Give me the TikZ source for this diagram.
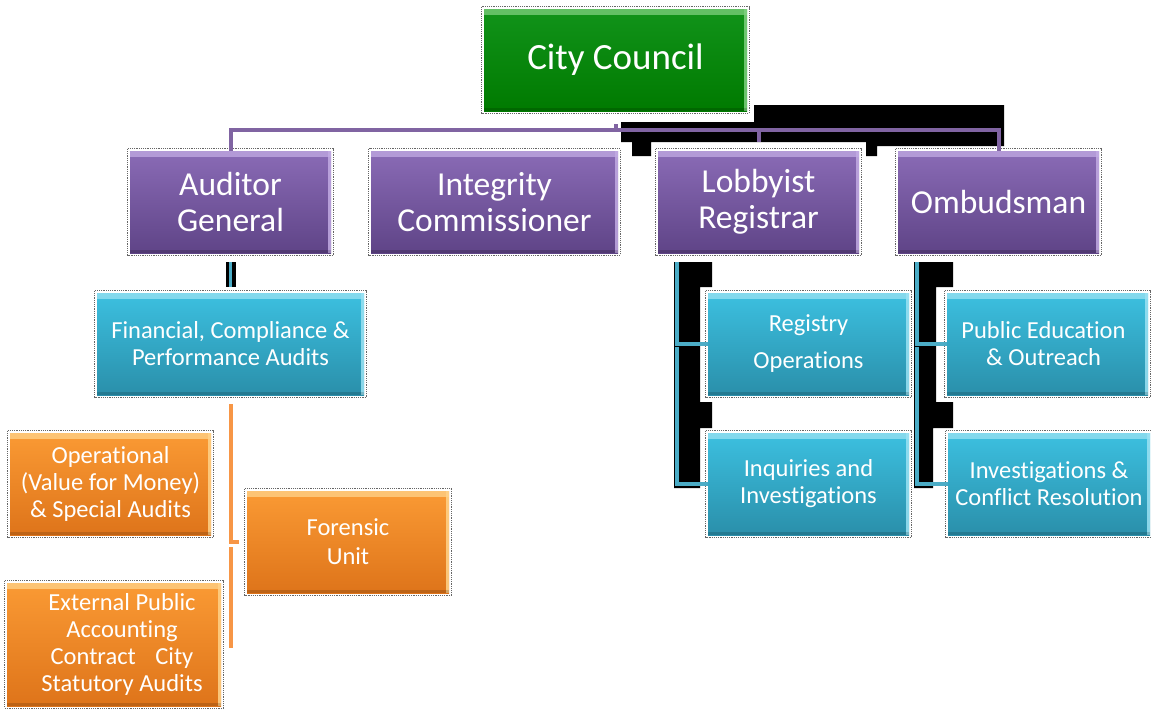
\documentclass[tikz,border=0pt]{standalone}
\usepackage{fontspec}
\setmainfont{Carlito}[Ligatures=NoCommon]
\definecolor{gTop}{HTML}{11931A}
\definecolor{gBot}{HTML}{007A00}
\definecolor{gHi}{HTML}{7FD07F}
\definecolor{pTop}{HTML}{8A6BB6}
\definecolor{pBot}{HTML}{5F4487}
\definecolor{pHi}{HTML}{C2ABE3}
\definecolor{tTop}{HTML}{3CC0E0}
\definecolor{tBot}{HTML}{2A8FAA}
\definecolor{tHi}{HTML}{9BE2F3}
\definecolor{oTop}{HTML}{FA9A34}
\definecolor{oBot}{HTML}{DE741A}
\definecolor{oHi}{HTML}{FFD38A}
\definecolor{pLine}{HTML}{8064A2}
\definecolor{tLine}{HTML}{4BACC6}
\definecolor{oLine}{HTML}{F79646}
\tikzset{
  bevel/.style={path picture={
    \fill[#1, opacity=.75] (path picture bounding box.north west) rectangle ([yshift=-6pt]path picture bounding box.north east);
    \fill[#1, opacity=.85] ([xshift=-3pt]path picture bounding box.north east) rectangle (path picture bounding box.south east);
    \fill[black, opacity=.15] ([yshift=3pt]path picture bounding box.south west) rectangle (path picture bounding box.south east);
  }},
  orgbox/.style={rectangle, inner sep=0pt, text=white, align=center},
  greenbox/.style={orgbox, top color=gTop, bottom color=gBot, bevel=gHi, font=\fontsize{37}{40}\selectfont},
  purplebox/.style={orgbox, top color=pTop, bottom color=pBot, bevel=pHi, minimum width=201pt, minimum height=102pt, font=\fontsize{33.5}{36}\selectfont},
  tealbox/.style={orgbox, top color=tTop, bottom color=tBot, bevel=tHi, minimum width=201pt, minimum height=102pt, font=\fontsize{24.5}{27}\selectfont},
  orangebox/.style={orgbox, top color=oTop, bottom color=oBot, bevel=oHi, minimum width=201pt, minimum height=102pt, font=\fontsize{24.5}{27}\selectfont},
  pline/.style={draw=pLine, line width=4pt},
  tline/.style={draw=tLine, line width=3.5pt},
  oline/.style={draw=oLine, line width=4pt},
  blackpatch/.style={fill=black},
  dotframe/.style={draw=gray!80!black, densely dotted, line width=1.2pt}
}
\begin{document}
\begin{tikzpicture}[x=1pt, y=-1pt]
\useasboundingbox (0,0) rectangle (1151,710);

% black artefact patches
\fill[blackpatch] (621,122) -- (754,122) -- (754,105) -- (1004,105) -- (1004,146) -- (877,146) -- (877,156) -- (866,156) -- (866,142) -- (651,142) -- (651,156) -- (632,156) -- (632,142) -- (621,142) -- cycle;
\fill[blackpatch] (674,262) -- (712,262) -- (712,287) -- (700,287) -- (700,402) -- (712,402) -- (712,428) -- (700,428) -- (700,488) -- (674,488) -- cycle;
\fill[blackpatch] (914,262) -- (953,262) -- (953,287) -- (936,287) -- (936,402) -- (953,402) -- (953,428) -- (933,428) -- (933,488) -- (914,488) -- cycle;
\fill[blackpatch] (226,262) rectangle (236,287);

% nodes
\node[greenbox, minimum width=263pt, minimum height=102pt] (cc) at (615.5,60) {City Council};

\node[purplebox] (ag) at (230.5,202) {Auditor\\General};
\node[purplebox, minimum width=247pt] (ic) at (494.5,202) {Integrity\\Commissioner};
\node[purplebox] (lr) at (758.5,202) {Lobbyist\\Registrar};
\node[purplebox] (om) at (998.5,202) {Ombudsman};

\node[tealbox, minimum width=267pt] (fc) at (230.5,344) {Financial, Compliance \&\\Performance Audits};
\node[tealbox] (ro) at (808.5,344) {Registry\\[10pt]Operations};
\node[tealbox] (iq) at (808.5,484) {Inquiries and\\Investigations};
\node[tealbox] (pe) at (1047.5,344) {Public Education\hspace*{8pt}\\\& Outreach\hspace*{8pt}};
\node[tealbox, minimum width=202pt] (cr) at (1049,484) {Investigations \&\\Conflict Resolution};

\node[orangebox] (op) at (110.5,484) {Operational\\(Value for Money)\\\& Special Audits};
\node[orangebox, minimum width=202pt] (fu) at (348,542) {Forensic\\[2pt]Unit};
\node[orangebox, minimum width=214pt, minimum height=123pt] (ex) at (114,644.5) {\hspace*{16pt}External Public\\\hspace*{16pt}Accounting\\\hspace*{16pt}Contract\hspace{14pt} City\\\hspace*{16pt}Statutory Audits};

% dotted frames
\foreach \n in {cc,ag,ic,lr,om,fc,ro,iq,pe,cr,op,fu,ex}
  \draw[dotframe] ([shift={(-2pt,2pt)}]\n.north west) rectangle ([shift={(2pt,-2pt)}]\n.south east);

% connectors
\coordinate (bus) at (0,130);
\draw[pline] (ag.north) -- (ag.north |- bus) -- (om.north |- bus) -- (om.north);
\draw[pline, shorten <=13pt] (cc.south) -- (cc.south |- bus);
\draw[pline, shorten >=9pt] (lr.north |- bus) -- (lr.north);

\draw[tline, shorten <=9pt, shorten >=6pt] (ag.south) -- (fc.north);
\draw[tline, shorten <=9pt] ([xshift=-81.5pt]lr.south) |- (ro.west);
\draw[tline, shorten <=94pt] ([xshift=-81.5pt]lr.south) |- (iq.west);
\draw[tline, shorten <=9pt] ([xshift=-81.5pt]om.south) |- (pe.west);
\draw[tline, shorten <=94pt] ([xshift=-81.5pt]om.south) |- (cr.west);

\coordinate (oend) at (0,648);
\path (fc.south |- fu.west) coordinate (ok);
\draw[oline, shorten <=9pt] (fc.south) |- ([xshift=-8pt]fu.west);
\draw[oline] ([yshift=-5pt]ok) -- (ok |- oend);
\end{tikzpicture}
\end{document}
